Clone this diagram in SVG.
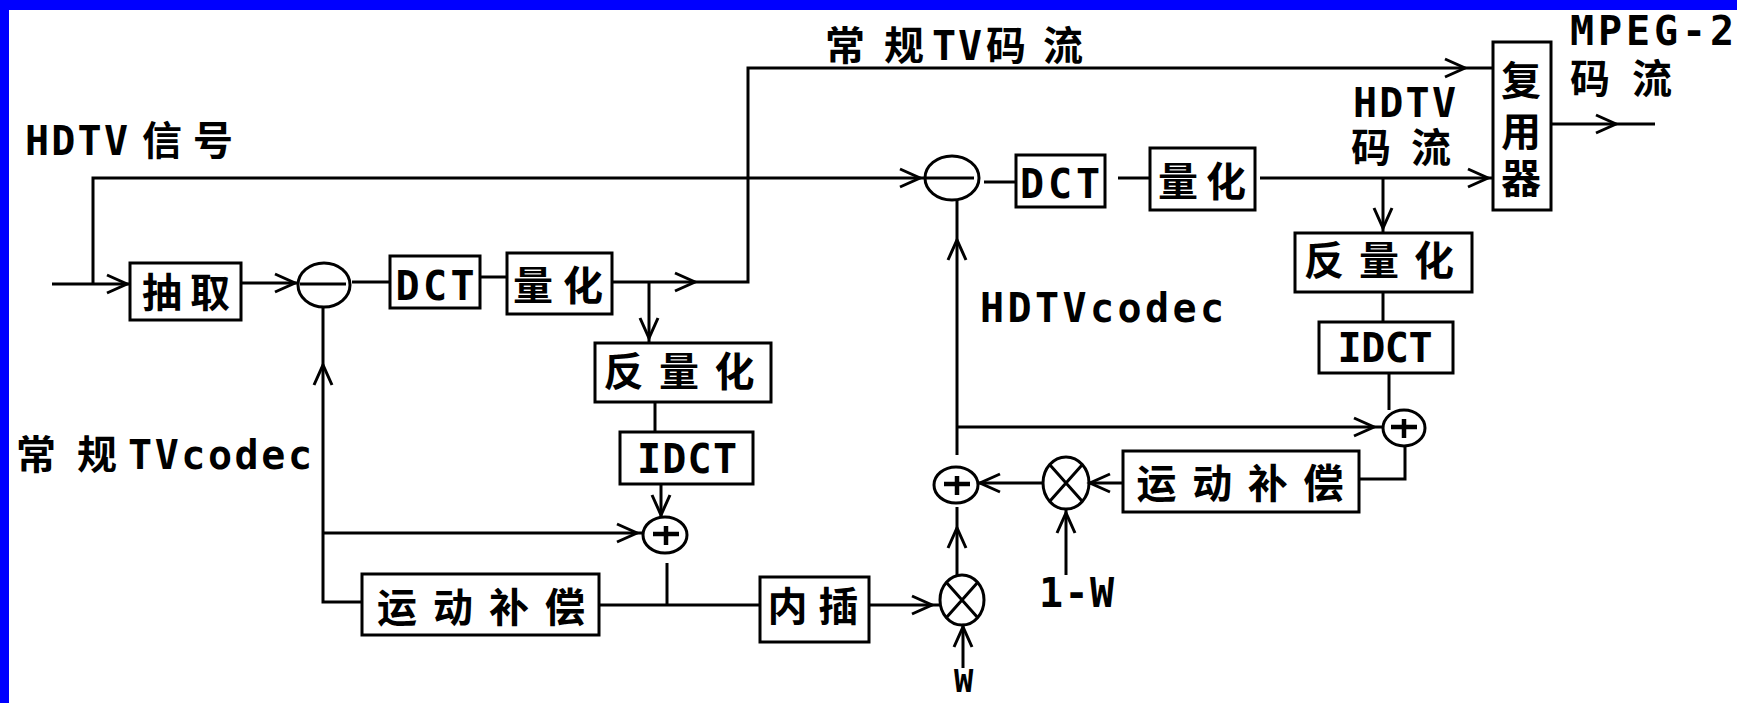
<svg xmlns="http://www.w3.org/2000/svg" xmlns:xlink="http://www.w3.org/1999/xlink" width="1737" height="703" viewBox="0 0 1737 703">
<style>
.box{fill:#fff;stroke:#000;stroke-width:3}
.ring{fill:none;stroke:#000;stroke-width:3}
.sign{stroke:#000;stroke-width:3;fill:none}
.plus{stroke:#000;stroke-width:4.5;fill:none}
.wire{fill:none;stroke:#000;stroke-width:3}
.ah{fill:none;stroke:#000;stroke-width:3}
text{font-family:"DejaVu Sans Mono","Noto Sans CJK SC",monospace;font-weight:bold;font-size:40px;fill:#000}
.c{text-anchor:middle}
</style>
<defs>
<path id="ah" class="ah" d="M-20,-9 L0,0 L-20,9"/>
</defs>
<rect x="0" y="0" width="1737" height="703" fill="#fff"/>
<rect x="0" y="0" width="1737" height="10" fill="#0000FF"/>
<rect x="0" y="0" width="9" height="703" fill="#0000FF"/>

<g id="connectors">
<path class="wire" d="M52,284 H130"/>
<path class="wire" d="M93,284 V178 H926"/>
<path class="wire" d="M241,283 H297"/>
<path class="wire" d="M352,282 H390"/>
<path class="wire" d="M480,277 H507"/>
<path class="wire" d="M612,282 H748 V68 H1493"/>
<path class="wire" d="M649,282 V343"/>
<path class="wire" d="M655,402 V432"/>
<path class="wire" d="M661,484 V517"/>
<path class="wire" d="M323,307 V602 H362"/>
<path class="wire" d="M323,533 H643"/>
<path class="wire" d="M667,563 V605"/>
<path class="wire" d="M599,605 H760"/>
<path class="wire" d="M869,605 H940"/>
<path class="wire" d="M963,668 V625"/>
<path class="wire" d="M957,575 V507"/>
<path class="wire" d="M957,455 V200"/>
<path class="wire" d="M957,427 H1383"/>
<path class="wire" d="M1389,373 V410"/>
<path class="wire" d="M1405,446 V479 H1359"/>
<path class="wire" d="M1123,483 H1089"/>
<path class="wire" d="M1043,483 H978"/>
<path class="wire" d="M1066,575 V509"/>
<path class="wire" d="M984,182 H1016"/>
<path class="wire" d="M1118,178 H1150"/>
<path class="wire" d="M1260,178 H1493"/>
<path class="wire" d="M1383,178 V233"/>
<path class="wire" d="M1383,292 V322"/>
<path class="wire" d="M1551,124 H1655"/>
<use xlink:href="#ah" transform="translate(127,284)"/>
<use xlink:href="#ah" transform="translate(920,178)"/>
<use xlink:href="#ah" transform="translate(295,283)"/>
<use xlink:href="#ah" transform="translate(695,282)"/>
<use xlink:href="#ah" transform="translate(1465,68)"/>
<use xlink:href="#ah" transform="translate(649,338) rotate(90)"/>
<use xlink:href="#ah" transform="translate(661,515) rotate(90)"/>
<use xlink:href="#ah" transform="translate(323,365) rotate(-90)"/>
<use xlink:href="#ah" transform="translate(637,533)"/>
<use xlink:href="#ah" transform="translate(932,605)"/>
<use xlink:href="#ah" transform="translate(963,627) rotate(-90)"/>
<use xlink:href="#ah" transform="translate(957,528) rotate(-90)"/>
<use xlink:href="#ah" transform="translate(957,240) rotate(-90)"/>
<use xlink:href="#ah" transform="translate(1374,427)"/>
<use xlink:href="#ah" transform="translate(1090,483) rotate(180)"/>
<use xlink:href="#ah" transform="translate(980,483) rotate(180)"/>
<use xlink:href="#ah" transform="translate(1066,513) rotate(-90)"/>
<use xlink:href="#ah" transform="translate(1488,178)"/>
<use xlink:href="#ah" transform="translate(1383,228) rotate(90)"/>
<use xlink:href="#ah" transform="translate(1616,124)"/>
</g>

<g id="n-extract"><rect class="box" x="130" y="263" width="111" height="57"/><text class="c" x="186" y="307" textLength="88" lengthAdjust="spacing">抽取</text></g>
<g id="n-sub1"><ellipse class="ring" cx="324" cy="285" rx="26" ry="22"/><path class="sign" d="M300,284 H346"/></g>
<g id="n-dct1"><rect class="box" x="390" y="256" width="90" height="52"/><text class="c" x="435" y="300" textLength="79" lengthAdjust="spacing">DCT</text></g>
<g id="n-quant1"><rect class="box" x="507" y="253" width="105" height="61"/><text class="c" x="558" y="300" textLength="90" lengthAdjust="spacing">量化</text></g>
<g id="n-iquant1"><rect class="box" x="595" y="343" width="176" height="59"/><text class="c" x="679" y="386" textLength="151" lengthAdjust="spacing">反量化</text></g>
<g id="n-idct1"><rect class="box" x="620" y="432" width="133" height="52"/><text class="c" x="687" y="473" textLength="100" lengthAdjust="spacing">IDCT</text></g>
<g id="n-add1"><ellipse class="ring" cx="665" cy="535" rx="22" ry="18"/><path class="plus" d="M653,534 H679 M666,526 V545"/></g>
<g id="n-mc1"><rect class="box" x="362" y="574" width="237" height="61"/><text class="c" x="481" y="622" textLength="208" lengthAdjust="spacing">运动补偿</text></g>
<g id="n-interp"><rect class="box" x="760" y="577" width="109" height="65"/><text class="c" x="813" y="621" textLength="91" lengthAdjust="spacing">内插</text></g>
<g id="n-mul1"><ellipse class="ring" cx="962" cy="600" rx="22" ry="25"/><path class="sign" d="M946,582 L978,618 M978,582 L946,618"/></g>
<g id="n-add2"><ellipse class="ring" cx="956" cy="485" rx="22" ry="18"/><path class="plus" d="M944,484 H970 M957,476 V495"/></g>
<g id="n-mul2"><ellipse class="ring" cx="1066" cy="483" rx="23" ry="26"/><path class="sign" d="M1050,465 L1082,501 M1082,465 L1050,501"/></g>
<g id="n-sub2"><ellipse class="ring" cx="952" cy="178" rx="27" ry="22"/><path class="sign" d="M926,178 H974"/></g>
<g id="n-dct2"><rect class="box" x="1016" y="155" width="89" height="52"/><text class="c" x="1060" y="198" textLength="80" lengthAdjust="spacing">DCT</text></g>
<g id="n-quant2"><rect class="box" x="1150" y="148" width="105" height="62"/><text class="c" x="1202" y="196" textLength="88" lengthAdjust="spacing">量化</text></g>
<g id="n-mux"><rect class="box" x="1493" y="42" width="58" height="168"/><text class="c" x="1521" y="95">复</text><text class="c" x="1521" y="146">用</text><text class="c" x="1521" y="193">器</text></g>
<g id="n-iquant2"><rect class="box" x="1295" y="233" width="177" height="59"/><text class="c" x="1379" y="275" textLength="150" lengthAdjust="spacing">反量化</text></g>
<g id="n-idct2"><rect class="box" x="1319" y="322" width="134" height="51"/><text class="c" x="1385" y="362" textLength="95" lengthAdjust="spacing">IDCT</text></g>
<g id="n-add3"><ellipse class="ring" cx="1404" cy="428" rx="21" ry="18"/><path class="plus" d="M1391,427 H1417 M1404,419 V438"/></g>
<g id="n-mc2"><rect class="box" x="1123" y="451" width="236" height="61"/><text class="c" x="1240" y="498" textLength="207" lengthAdjust="spacing">运动补偿</text></g>

<g id="labels">
<text y="155"><tspan x="25" textLength="103" lengthAdjust="spacing">HDTV</tspan><tspan x="142" textLength="91" lengthAdjust="spacing">信号</tspan></text>
<text y="60"><tspan x="825" textLength="99" lengthAdjust="spacing">常规</tspan><tspan x="932" textLength="50" lengthAdjust="spacing">TV</tspan><tspan x="986" textLength="97" lengthAdjust="spacing">码流</tspan></text>
<text x="1570" y="45" textLength="164" lengthAdjust="spacing">MPEG-2</text>
<text x="1570" y="93" textLength="102" lengthAdjust="spacing">码流</text>
<text x="1353" y="117" textLength="103" lengthAdjust="spacing">HDTV</text>
<text x="1351" y="162" textLength="100" lengthAdjust="spacing">码流</text>
<text x="980" y="322" textLength="244" lengthAdjust="spacing">HDTVcodec</text>
<text y="469"><tspan x="16" textLength="101" lengthAdjust="spacing">常规</tspan><tspan x="128" textLength="184" lengthAdjust="spacing">TVcodec</tspan></text>
<text x="1039" y="607" textLength="75" lengthAdjust="spacing">1-W</text>
<text x="954" y="692" textLength="20" lengthAdjust="spacing" style="font-size:32px">W</text>
</g>
</svg>
